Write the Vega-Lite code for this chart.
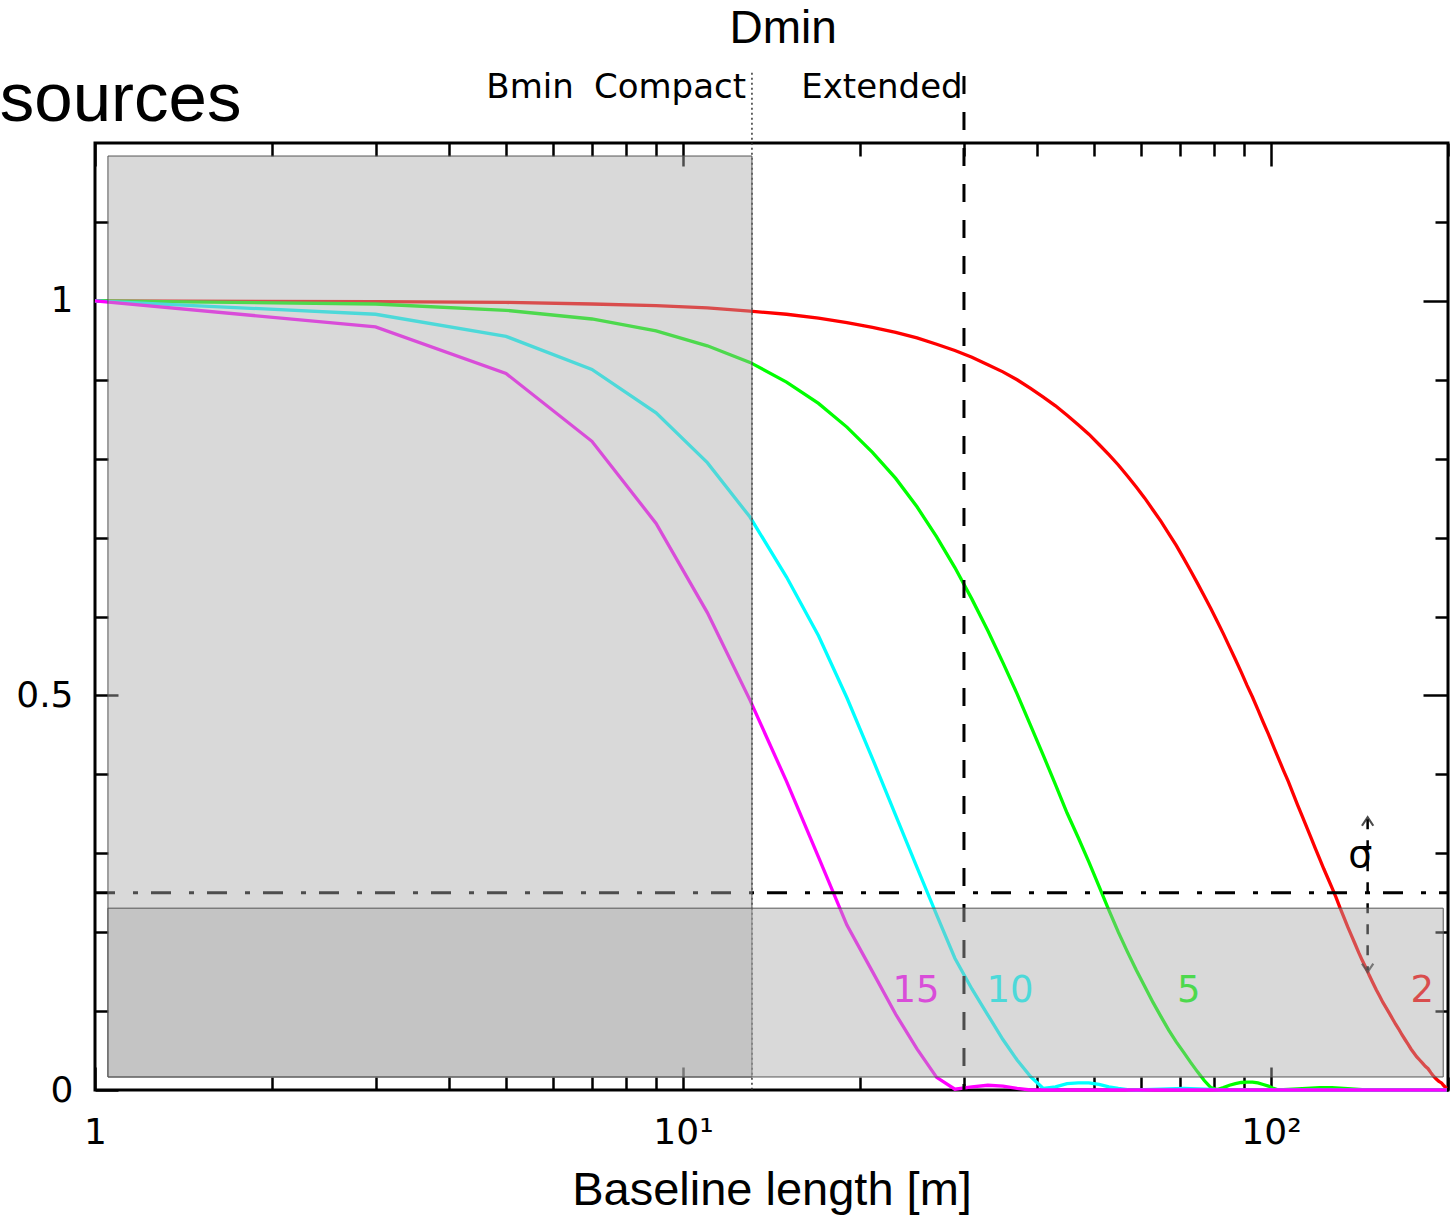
{
"$schema": "https://vega.github.io/schema/vega-lite/v6.json",
"width": 1353, "height": 947,
"autosize": "none",
"padding": {"left": 95, "top": 143, "right": 8, "bottom": 128},
"config": {
  "view": {"stroke": "black", "strokeWidth": 3},
  "axis": {"domain": false, "grid": false, "tickColor": "black", "tickWidth": 2.5, "labelColor": "black", "labelFont": "DejaVu Sans", "labelFontSize": 36, "labelFlush": false, "labelOverlap": false}
},
"resolve": {"axis": {"x": "independent", "y": "independent"}},
"layer": [
{
  "data": {"values": [
{"B":1,"V":1.0,"s":"2"},{"B":3,"V":0.999,"s":"2"},{"B":5,"V":0.998,"s":"2"},{"B":7,"V":0.996,"s":"2"},{"B":9,"V":0.994,"s":"2"},{"B":11,"V":0.991,"s":"2"},{"B":13,"V":0.987,"s":"2"},{"B":15,"V":0.983,"s":"2"},{"B":17,"V":0.978,"s":"2"},{"B":19,"V":0.9725,"s":"2"},{"B":21,"V":0.9665,"s":"2"},{"B":23,"V":0.96,"s":"2"},{"B":25,"V":0.953,"s":"2"},{"B":27,"V":0.945,"s":"2"},{"B":29,"V":0.937,"s":"2"},{"B":31,"V":0.9285,"s":"2"},{"B":33,"V":0.919,"s":"2"},{"B":35,"V":0.91,"s":"2"},{"B":37,"V":0.9,"s":"2"},{"B":39,"V":0.889,"s":"2"},{"B":41,"V":0.878,"s":"2"},{"B":43,"V":0.867,"s":"2"},{"B":45,"V":0.855,"s":"2"},{"B":47,"V":0.843,"s":"2"},{"B":49,"V":0.831,"s":"2"},{"B":51,"V":0.818,"s":"2"},{"B":53,"V":0.805,"s":"2"},{"B":55,"V":0.792,"s":"2"},{"B":57,"V":0.778,"s":"2"},{"B":59,"V":0.764,"s":"2"},{"B":61,"V":0.75,"s":"2"},{"B":63,"V":0.735,"s":"2"},{"B":65,"V":0.7205,"s":"2"},{"B":67,"V":0.705,"s":"2"},{"B":69,"V":0.69,"s":"2"},{"B":71,"V":0.674,"s":"2"},{"B":73,"V":0.658,"s":"2"},{"B":75,"V":0.642,"s":"2"},{"B":77,"V":0.626,"s":"2"},{"B":79,"V":0.61,"s":"2"},{"B":81,"V":0.594,"s":"2"},{"B":83,"V":0.578,"s":"2"},{"B":85,"V":0.5615,"s":"2"},{"B":87,"V":0.5455,"s":"2"},{"B":89,"V":0.5295,"s":"2"},{"B":91,"V":0.513,"s":"2"},{"B":93,"V":0.498,"s":"2"},{"B":95,"V":0.482,"s":"2"},{"B":97,"V":0.466,"s":"2"},{"B":99,"V":0.451,"s":"2"},{"B":101,"V":0.435,"s":"2"},{"B":103,"V":0.42,"s":"2"},{"B":105,"V":0.405,"s":"2"},{"B":107,"V":0.391,"s":"2"},{"B":109,"V":0.376,"s":"2"},{"B":111,"V":0.361,"s":"2"},{"B":113,"V":0.347,"s":"2"},{"B":115,"V":0.333,"s":"2"},{"B":117,"V":0.3195,"s":"2"},{"B":119,"V":0.306,"s":"2"},{"B":121,"V":0.293,"s":"2"},{"B":123,"V":0.28,"s":"2"},{"B":125,"V":0.268,"s":"2"},{"B":127,"V":0.256,"s":"2"},{"B":129,"V":0.244,"s":"2"},{"B":131,"V":0.231,"s":"2"},{"B":133,"V":0.219,"s":"2"},{"B":135,"V":0.207,"s":"2"},{"B":137,"V":0.196,"s":"2"},{"B":139,"V":0.185,"s":"2"},{"B":141,"V":0.174,"s":"2"},{"B":143,"V":0.164,"s":"2"},{"B":145,"V":0.155,"s":"2"},{"B":147,"V":0.145,"s":"2"},{"B":149,"V":0.136,"s":"2"},{"B":151,"V":0.127,"s":"2"},{"B":153,"V":0.119,"s":"2"},{"B":155,"V":0.111,"s":"2"},{"B":157,"V":0.104,"s":"2"},{"B":159,"V":0.097,"s":"2"},{"B":161,"V":0.09,"s":"2"},{"B":163,"V":0.083,"s":"2"},{"B":165,"V":0.077,"s":"2"},{"B":167,"V":0.07,"s":"2"},{"B":169,"V":0.064,"s":"2"},{"B":171,"V":0.058,"s":"2"},{"B":173,"V":0.052,"s":"2"},{"B":175,"V":0.047,"s":"2"},{"B":177,"V":0.042,"s":"2"},{"B":179,"V":0.038,"s":"2"},{"B":181,"V":0.034,"s":"2"},{"B":183,"V":0.03,"s":"2"},{"B":185,"V":0.027,"s":"2"},{"B":187,"V":0.022,"s":"2"},{"B":189,"V":0.0175,"s":"2"},{"B":191,"V":0.014,"s":"2"},{"B":193,"V":0.011,"s":"2"},{"B":195,"V":0.009,"s":"2"},{"B":197,"V":0.005,"s":"2"},{"B":199,"V":0.002,"s":"2"},
{"B":1,"V":1.0,"s":"5"},{"B":3,"V":0.996,"s":"5"},{"B":5,"V":0.988,"s":"5"},{"B":7,"V":0.977,"s":"5"},{"B":9,"V":0.962,"s":"5"},{"B":11,"V":0.943,"s":"5"},{"B":13,"V":0.922,"s":"5"},{"B":15,"V":0.897,"s":"5"},{"B":17,"V":0.87,"s":"5"},{"B":19,"V":0.84,"s":"5"},{"B":21,"V":0.808,"s":"5"},{"B":23,"V":0.775,"s":"5"},{"B":25,"V":0.739,"s":"5"},{"B":27,"V":0.701,"s":"5"},{"B":29,"V":0.662,"s":"5"},{"B":31,"V":0.622,"s":"5"},{"B":33,"V":0.582,"s":"5"},{"B":35,"V":0.5415,"s":"5"},{"B":37,"V":0.502,"s":"5"},{"B":39,"V":0.462,"s":"5"},{"B":41,"V":0.424,"s":"5"},{"B":43,"V":0.387,"s":"5"},{"B":45,"V":0.351,"s":"5"},{"B":47,"V":0.32,"s":"5"},{"B":49,"V":0.289,"s":"5"},{"B":51,"V":0.258,"s":"5"},{"B":53,"V":0.228,"s":"5"},{"B":55,"V":0.2,"s":"5"},{"B":57,"V":0.175,"s":"5"},{"B":59,"V":0.152,"s":"5"},{"B":61,"V":0.131,"s":"5"},{"B":63,"V":0.111,"s":"5"},{"B":65,"V":0.093,"s":"5"},{"B":67,"V":0.076,"s":"5"},{"B":69,"V":0.061,"s":"5"},{"B":71,"V":0.048,"s":"5"},{"B":73,"V":0.035,"s":"5"},{"B":75,"V":0.023,"s":"5"},{"B":77,"V":0.012,"s":"5"},{"B":79,"V":0.003,"s":"5"},{"B":81,"V":0.0005,"s":"5"},{"B":83,"V":0.003,"s":"5"},{"B":85,"V":0.006,"s":"5"},{"B":87,"V":0.008,"s":"5"},{"B":89,"V":0.0095,"s":"5"},{"B":91,"V":0.01,"s":"5"},{"B":93,"V":0.01,"s":"5"},{"B":95,"V":0.009,"s":"5"},{"B":97,"V":0.007,"s":"5"},{"B":99,"V":0.005,"s":"5"},{"B":101,"V":0.002,"s":"5"},{"B":103,"V":0.0,"s":"5"},{"B":109,"V":0.001,"s":"5"},{"B":115,"V":0.002,"s":"5"},{"B":121,"V":0.003,"s":"5"},{"B":127,"V":0.003,"s":"5"},{"B":133,"V":0.002,"s":"5"},{"B":139,"V":0.001,"s":"5"},{"B":145,"V":0.0,"s":"5"},{"B":199,"V":0.0,"s":"5"},
{"B":1,"V":1.0,"s":"10"},{"B":3,"V":0.983,"s":"10"},{"B":5,"V":0.955,"s":"10"},{"B":7,"V":0.913,"s":"10"},{"B":9,"V":0.858,"s":"10"},{"B":11,"V":0.795,"s":"10"},{"B":13,"V":0.726,"s":"10"},{"B":15,"V":0.65,"s":"10"},{"B":17,"V":0.5755,"s":"10"},{"B":19,"V":0.497,"s":"10"},{"B":21,"V":0.42,"s":"10"},{"B":23,"V":0.348,"s":"10"},{"B":25,"V":0.282,"s":"10"},{"B":27,"V":0.222,"s":"10"},{"B":29,"V":0.167,"s":"10"},{"B":31,"V":0.128,"s":"10"},{"B":33,"V":0.095,"s":"10"},{"B":35,"V":0.064,"s":"10"},{"B":37,"V":0.038,"s":"10"},{"B":39,"V":0.017,"s":"10"},{"B":41,"V":0.002,"s":"10"},{"B":43,"V":0.004,"s":"10"},{"B":45,"V":0.008,"s":"10"},{"B":47,"V":0.009,"s":"10"},{"B":49,"V":0.009,"s":"10"},{"B":51,"V":0.007,"s":"10"},{"B":53,"V":0.004,"s":"10"},{"B":55,"V":0.002,"s":"10"},{"B":57,"V":0.0005,"s":"10"},{"B":59,"V":0.0,"s":"10"},{"B":65,"V":0.001,"s":"10"},{"B":71,"V":0.002,"s":"10"},{"B":77,"V":0.001,"s":"10"},{"B":83,"V":0.0,"s":"10"},{"B":199,"V":0.0,"s":"10"},
{"B":1,"V":1.0,"s":"15"},{"B":3,"V":0.967,"s":"15"},{"B":5,"V":0.908,"s":"15"},{"B":7,"V":0.822,"s":"15"},{"B":9,"V":0.718,"s":"15"},{"B":11,"V":0.605,"s":"15"},{"B":13,"V":0.494,"s":"15"},{"B":15,"V":0.391,"s":"15"},{"B":17,"V":0.295,"s":"15"},{"B":19,"V":0.209,"s":"15"},{"B":21,"V":0.15,"s":"15"},{"B":23,"V":0.096,"s":"15"},{"B":25,"V":0.052,"s":"15"},{"B":27,"V":0.016,"s":"15"},{"B":29,"V":0.001,"s":"15"},{"B":31,"V":0.004,"s":"15"},{"B":33,"V":0.006,"s":"15"},{"B":35,"V":0.005,"s":"15"},{"B":37,"V":0.002,"s":"15"},{"B":39,"V":0.0,"s":"15"},{"B":199,"V":0.0,"s":"15"}
  ]},
  "mark": {"type": "line", "strokeWidth": 3.3},
  "encoding": {
    "x": {"field": "B", "type": "quantitative", "scale": {"type": "log", "domain": [1, 200], "nice": false},
      "axis": {"orient": "bottom", "values": [1,2,3,4,5,6,7,8,9,10,20,30,40,50,60,70,80,90,100,200],
        "labelExpr": "datum.value == 1 ? '1' : datum.value == 10 ? '10¹' : datum.value == 100 ? '10²' : ''",
        "tickSize": {"condition": {"test": "datum.value == 1 || datum.value == 10 || datum.value == 100", "value": -23}, "value": -13},
        "labelPadding": 48,
        "title": "Baseline length [m]", "titleFont": "Liberation Sans", "titleFontSize": 47, "titleFontWeight": "normal", "titleColor": "black", "titlePadding": 7}},
    "y": {"field": "V", "type": "quantitative", "scale": {"domain": [0, 1.2], "nice": false, "zero": false},
      "axis": {"orient": "left", "values": [0,0.1,0.2,0.3,0.4,0.5,0.6,0.7,0.8,0.9,1,1.1],
        "labelExpr": "datum.value == 0 ? '0' : datum.value == 0.5 ? '0.5' : datum.value == 1 ? '1' : ''",
        "tickSize": {"condition": {"test": "datum.value == 0 || datum.value == 0.5 || datum.value == 1", "value": -23}, "value": -13},
        "labelPadding": 45, "title": null}},
    "color": {"field": "s", "type": "nominal", "scale": {"domain": ["2","5","10","15"], "range": ["#ff0000","#00ff00","#00ffff","#ff00ff"]}, "legend": null}
  }
},
{
  "data": {"values": [
    {"B": 24.9, "V": 0.125, "t": "15", "s": "15"},
    {"B": 36.0, "V": 0.125, "t": "10", "s": "10"},
    {"B": 72.5, "V": 0.125, "t": "5", "s": "5"},
    {"B": 180.8, "V": 0.125, "t": "2", "s": "2"}
  ]},
  "mark": {"type": "text", "font": "DejaVu Sans", "fontSize": 37, "align": "center", "baseline": "middle"},
  "encoding": {
    "x": {"field": "B", "type": "quantitative", "scale": {"type": "log", "domain": [1, 200], "nice": false},
      "axis": {"orient": "top", "values": [1,2,3,4,5,6,7,8,9,10,20,30,40,50,60,70,80,90,100,200], "labels": false,
        "tickSize": {"condition": {"test": "datum.value == 1 || datum.value == 10 || datum.value == 100", "value": -23}, "value": -13}, "title": null}},
    "y": {"field": "V", "type": "quantitative", "scale": {"domain": [0, 1.2], "nice": false, "zero": false},
      "axis": {"orient": "right", "values": [0,0.1,0.2,0.3,0.4,0.5,0.6,0.7,0.8,0.9,1,1.1], "labels": false,
        "tickSize": {"condition": {"test": "datum.value == 0 || datum.value == 0.5 || datum.value == 1", "value": -25}, "value": -13}, "title": null}},
    "text": {"field": "t"},
    "color": {"field": "s", "type": "nominal", "legend": null}
  }
},
{
  "data": {"values": [{"B": 30.05, "V": 1.285, "V2": 0}]},
  "mark": {"type": "rule", "color": "black", "strokeWidth": 3, "strokeDash": [18, 18]},
  "encoding": {
    "x": {"field": "B", "type": "quantitative", "axis": null},
    "y": {"field": "V", "type": "quantitative", "axis": null},
    "y2": {"field": "V2"}
  }
},
{
  "data": {"values": [{"B": 13.1, "V": 1.289, "V2": 0}]},
  "mark": {"type": "rule", "color": "#333333", "strokeWidth": 1.5, "strokeDash": [2, 3]},
  "encoding": {
    "x": {"field": "B", "type": "quantitative", "axis": null},
    "y": {"field": "V", "type": "quantitative", "axis": null},
    "y2": {"field": "V2"}
  }
},
{
  "data": {"values": [{"B": 1, "B2": 200, "V": 0.25}]},
  "mark": {"type": "rule", "color": "black", "strokeWidth": 3, "strokeDash": [20, 18, 5, 13]},
  "encoding": {
    "x": {"field": "B", "type": "quantitative", "axis": null},
    "x2": {"field": "B2"},
    "y": {"field": "V", "type": "quantitative", "axis": null}
  }
},
{
  "data": {"values": [{"B": 146, "V": 0.343, "V2": 0.152}]},
  "mark": {"type": "rule", "color": "black", "strokeWidth": 2.5, "strokeDash": [10, 11]},
  "encoding": {
    "x": {"field": "B", "type": "quantitative", "axis": null},
    "y": {"field": "V", "type": "quantitative", "axis": null},
    "y2": {"field": "V2"}
  }
},
{
  "data": {"values": [{"B": 146, "V": 0.3456, "dir": "up"}, {"B": 146, "V": 0.1494, "dir": "down"}]},
  "mark": {"type": "point", "filled": false, "stroke": "black", "strokeWidth": 2.2, "size": 200},
  "encoding": {
    "x": {"field": "B", "type": "quantitative", "axis": null},
    "y": {"field": "V", "type": "quantitative", "axis": null},
    "shape": {"field": "dir", "type": "nominal", "scale": {"domain": ["up", "down"], "range": ["M-0.8,1.2L0,0L0.8,1.2", "M-0.8,-1.2L0,0L0.8,-1.2"]}, "legend": null}
  }
},
{
  "data": {"values": [
    {"B": 1.052, "B2": 13.1, "V": 0.0165, "V2": 1.1835},
    {"B": 1.052, "B2": 196.3, "V": 0.0165, "V2": 0.2304}
  ]},
  "mark": {"type": "rect", "fill": "#aaaaaa", "fillOpacity": 0.45, "stroke": "#555555", "strokeWidth": 1},
  "encoding": {
    "x": {"field": "B", "type": "quantitative", "axis": null},
    "x2": {"field": "B2"},
    "y": {"field": "V", "type": "quantitative", "axis": null},
    "y2": {"field": "V2"}
  }
},
{
  "data": {"values": [{"B": 141.8, "V": 0.296, "t": "σ"}]},
  "mark": {"type": "text", "font": "DejaVu Sans", "fontSize": 38, "align": "center", "baseline": "middle", "color": "black"},
  "encoding": {
    "x": {"field": "B", "type": "quantitative", "axis": null},
    "y": {"field": "V", "type": "quantitative", "axis": null},
    "text": {"field": "t"}
  }
},
{
  "data": {"values": [
    {"B": 6.52, "V": 1.257, "t": "Bmin"},
    {"B": 12.8, "V": 1.257, "t": "Compact"},
    {"B": 29.9, "V": 1.257, "t": "Extended"}
  ]},
  "mark": {"type": "text", "font": "DejaVu Sans", "fontSize": 34, "align": "right", "baseline": "alphabetic", "color": "black"},
  "encoding": {
    "x": {"field": "B", "type": "quantitative", "axis": null},
    "y": {"field": "V", "type": "quantitative", "axis": null},
    "text": {"field": "t"}
  }
},
{
  "data": {"values": [{"B": 14.8, "V": 1.327, "t": "Dmin"}]},
  "mark": {"type": "text", "font": "Liberation Sans", "fontSize": 46, "align": "center", "baseline": "alphabetic", "color": "black"},
  "encoding": {
    "x": {"field": "B", "type": "quantitative", "axis": null},
    "y": {"field": "V", "type": "quantitative", "axis": null},
    "text": {"field": "t"}
  }
},
{
  "data": {"values": [{"B": 0.689, "V": 1.228, "t": "sources"}]},
  "mark": {"type": "text", "font": "Liberation Sans", "fontSize": 69, "align": "left", "baseline": "alphabetic", "color": "black"},
  "encoding": {
    "x": {"field": "B", "type": "quantitative", "axis": null},
    "y": {"field": "V", "type": "quantitative", "axis": null},
    "text": {"field": "t"}
  }
}
]
}
